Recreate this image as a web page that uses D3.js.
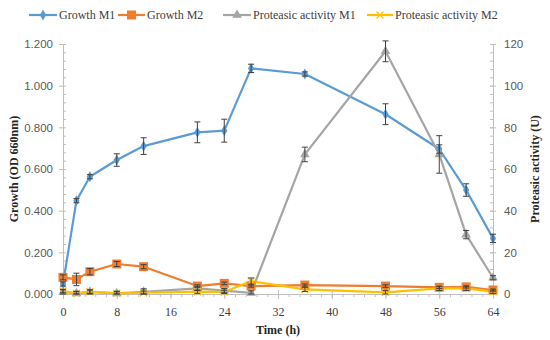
<!DOCTYPE html>
<html>
<head>
<meta charset="utf-8">
<script src="https://cdn.jsdelivr.net/npm/d3@7"></script>
<style>
  body { margin: 0; background: #fff; }
  svg { display: block; }
</style>
</head>
<body>
<div id="chart"></div>
<script>
// Sampling times (h)
const time = [0, 2, 4, 8, 12, 20, 24, 28, 36, 48, 56, 60, 64];

// Growth (OD 660nm) - left axis
const growthM1 = [0.048, 0.448, 0.563, 0.643, 0.710, 0.776, 0.784, 1.083, 1.056, 0.863, 0.696, 0.499, 0.267];
const growthM1Err = [0.01, 0.01, 0.01, 0.03, 0.04, 0.05, 0.055, 0.02, 0.01, 0.05, 0.02, 0.03, 0.02];
const growthM2 = [0.080, 0.070, 0.107, 0.144, 0.131, 0.038, 0.051, 0.038, 0.043, 0.038, 0.032, 0.034, 0.019];
const growthM2Err = [0.012, 0.03, 0.015, 0.012, 0.01, 0.006, 0.006, 0.005, 0.005, 0.006, 0.005, 0.005, 0.005];

// Proteasic activity (U) - right axis
const protM1 = [1, 0.3, 1, 0.3, 1, 2.7, 1.6, 0.5, 67, 116.5, 67, 28.5, 7.8];
const protM1Err = [1, 1, 1, 1, 1.5, 1, 1, 1, 3.5, 5, 9, 2, 1];
const protM2 = [1.4, 0.3, 1.1, 0.3, 0.6, 1.1, 1, 6.2, 2.2, 0.8, 2.7, 2.7, 1.1];
const protM2Err = [0.8, 0.8, 0.8, 0.8, 0.8, 0.8, 0.8, 1.5, 1, 0.8, 1, 1, 0.8];

// Axis ticks
const xTicks = [0, 8, 16, 24, 32, 40, 48, 56, 64];
const yLeftTicks = [0, 0.2, 0.4, 0.6, 0.8, 1.0, 1.2];
const yRightTicks = [0, 20, 40, 60, 80, 100, 120];

const series = [
  { name: 'Growth M1', values: growthM1, err: growthM1Err, axis: 'left', color: '#5B9BD5', marker: 'diamond' },
  { name: 'Growth M2', values: growthM2, err: growthM2Err, axis: 'left', color: '#ED7D31', marker: 'square' },
  { name: 'Proteasic activity M1', values: protM1, err: protM1Err, axis: 'right', color: '#A5A5A5', marker: 'triangle' },
  { name: 'Proteasic activity M2', values: protM2, err: protM2Err, axis: 'right', color: '#FFC000', marker: 'cross' }
];

const width = 550, height = 340;
const serif = '"Liberation Serif", "DejaVu Serif", serif';
const sans = '"Liberation Sans", "Noto Sans", sans-serif';
const tickColor = '#595959';
const axisColor = '#BFBFBF';

const svg = d3.select('#chart').append('svg')
  .attr('width', width)
  .attr('height', height);

const x = d3.scaleLinear().domain([0, 64]).range([63, 493]);
const yL = d3.scaleLinear().domain([0, 1.2]).range([294, 44]);
const yR = d3.scaleLinear().domain([0, 120]).range([294, 44]);

// --- Axes ---
// minor ticks drawn first so major ticks sit on top
const xMinor = d3.range(0, 64.01, 1.6);
svg.append('g')
  .attr('transform', `translate(0,${yL(0)})`)
  .call(d3.axisBottom(x).tickValues(xMinor).tickSize(3).tickFormat(''))
  .call(g => g.select('.domain').remove())
  .call(g => g.selectAll('line').attr('stroke', axisColor));

const xAxis = svg.append('g')
  .attr('transform', `translate(0,${yL(0)})`)
  .call(d3.axisBottom(x).tickValues(xTicks).tickSize(5).tickSizeOuter(0).tickPadding(8));
xAxis.select('.domain').attr('stroke', axisColor);
xAxis.selectAll('line').attr('stroke', axisColor).attr('y1', -4);
xAxis.selectAll('text')
  .attr('fill', '#404040')
  .attr('font-family', serif)
  .attr('font-size', '12px');

// Left axis
const yLMinor = d3.range(0, 1.2001, 0.04);
svg.append('g')
  .attr('transform', `translate(${x(0)},0)`)
  .call(d3.axisRight(yL).tickValues(yLMinor).tickSize(3).tickFormat(''))
  .call(g => g.select('.domain').remove())
  .call(g => g.selectAll('line').attr('stroke', axisColor));

const yLeftAxis = svg.append('g')
  .attr('transform', `translate(${x(0)},0)`)
  .call(d3.axisLeft(yL).tickValues(yLeftTicks).tickSize(4).tickSizeOuter(0).tickPadding(6)
    .tickFormat(d3.format('.3f')));
yLeftAxis.select('.domain').attr('stroke', axisColor);
yLeftAxis.selectAll('line').attr('stroke', axisColor);
yLeftAxis.selectAll('text')
  .attr('fill', tickColor)
  .attr('font-family', sans)
  .attr('font-size', '11.5px');

// Right axis
const yRMinor = d3.range(0, 120.01, 4);
svg.append('g')
  .attr('transform', `translate(${x(64)},0)`)
  .call(d3.axisLeft(yR).tickValues(yRMinor).tickSize(3).tickFormat(''))
  .call(g => g.select('.domain').remove())
  .call(g => g.selectAll('line').attr('stroke', axisColor));

const yRightAxis = svg.append('g')
  .attr('transform', `translate(${x(64)},0)`)
  .call(d3.axisRight(yR).tickValues(yRightTicks).tickSize(3).tickSizeOuter(0).tickPadding(8));
yRightAxis.select('.domain').attr('stroke', axisColor);
yRightAxis.selectAll('line').attr('stroke', axisColor).attr('x1', -3);
yRightAxis.selectAll('text')
  .attr('fill', tickColor)
  .attr('font-family', sans)
  .attr('font-size', '11.5px');

// Axis titles
svg.append('text')
  .attr('x', 278).attr('y', 334)
  .attr('text-anchor', 'middle')
  .attr('font-family', serif).attr('font-weight', 'bold')
  .attr('font-size', '12px').attr('fill', '#262626')
  .text('Time (h)');

svg.append('text')
  .attr('transform', 'translate(18,169) rotate(-90)')
  .attr('text-anchor', 'middle')
  .attr('font-family', serif).attr('font-weight', 'bold')
  .attr('font-size', '12px').attr('fill', '#262626')
  .text('Growth (OD 660nm)');

svg.append('text')
  .attr('transform', 'translate(539,169) rotate(-90)')
  .attr('text-anchor', 'middle')
  .attr('font-family', serif).attr('font-weight', 'bold')
  .attr('font-size', '12px').attr('fill', '#262626')
  .text('Proteasic activity (U)');

// --- Marker drawing ---
function drawMarker(g, type, color, cx, cy) {
  if (type === 'diamond') {
    g.append('path')
      .attr('d', d3.symbol(d3.symbolDiamond, 34)())
      .attr('transform', `translate(${cx},${cy})`)
      .attr('fill', color);
  } else if (type === 'square') {
    g.append('rect')
      .attr('x', cx - 4.5).attr('y', cy - 4.5)
      .attr('width', 9).attr('height', 9)
      .attr('fill', color);
  } else if (type === 'triangle') {
    g.append('path')
      .attr('d', d3.symbol(d3.symbolTriangle, 40)())
      .attr('transform', `translate(${cx},${cy})`)
      .attr('fill', color);
  } else if (type === 'cross') {
    g.append('path')
      .attr('d', `M${cx - 3.5},${cy - 3.5}L${cx + 3.5},${cy + 3.5}M${cx - 3.5},${cy + 3.5}L${cx + 3.5},${cy - 3.5}`)
      .attr('stroke', color).attr('stroke-width', 1.3).attr('fill', 'none');
  }
}

// --- Series ---
const linesGroup = svg.append('g').attr('class', 'lines');
const markGroup = svg.append('g').attr('class', 'markers');
const errGroup = svg.append('g').attr('class', 'errors');

series.forEach(s => {
  const yScale = s.axis === 'left' ? yL : yR;
  const pts = time.map((t, i) => ({ t, v: s.values[i], e: s.err[i] }));

  const line = d3.line()
    .x(d => x(d.t))
    .y(d => yScale(d.v));

  linesGroup.append('path')
    .datum(pts)
    .attr('d', line)
    .attr('fill', 'none')
    .attr('stroke', s.color)
    .attr('stroke-width', 2.2)
    .attr('stroke-linejoin', 'round');

  const eg = markGroup.append('g');
  pts.forEach(d => {
    drawMarker(eg, s.marker, s.color, x(d.t), yScale(d.v));
  });

  // error bars
  pts.forEach(d => {
    const lo = yScale(Math.max(0, d.v - d.e));
    const hi = yScale(d.v + d.e);
    const cx = x(d.t);
    errGroup.append('path')
      .attr('d', `M${cx},${lo}V${hi}M${cx - 3},${lo}H${cx + 3}M${cx - 3},${hi}H${cx + 3}`)
      .attr('stroke', '#404040')
      .attr('stroke-width', 1)
      .attr('fill', 'none');
  });
});

// --- Legend ---
const legendItems = [
  { x0: 29, x1: 57, tx: 59 },
  { x0: 118, x1: 145, tx: 147 },
  { x0: 223, x1: 251, tx: 253 },
  { x0: 367, x1: 393, tx: 395 }
];
const legend = svg.append('g').attr('class', 'legend');
series.forEach((s, i) => {
  const it = legendItems[i];
  const ly = 15;
  legend.append('line')
    .attr('x1', it.x0).attr('x2', it.x1)
    .attr('y1', ly).attr('y2', ly)
    .attr('stroke', s.color).attr('stroke-width', 2.2);
  drawMarker(legend, s.marker, s.color, (it.x0 + it.x1) / 2, ly);
  legend.append('text')
    .attr('x', it.tx).attr('y', ly + 4)
    .attr('font-family', serif)
    .attr('font-size', '12px')
    .attr('fill', '#404040')
    .text(s.name);
});
</script>
</body>
</html>
